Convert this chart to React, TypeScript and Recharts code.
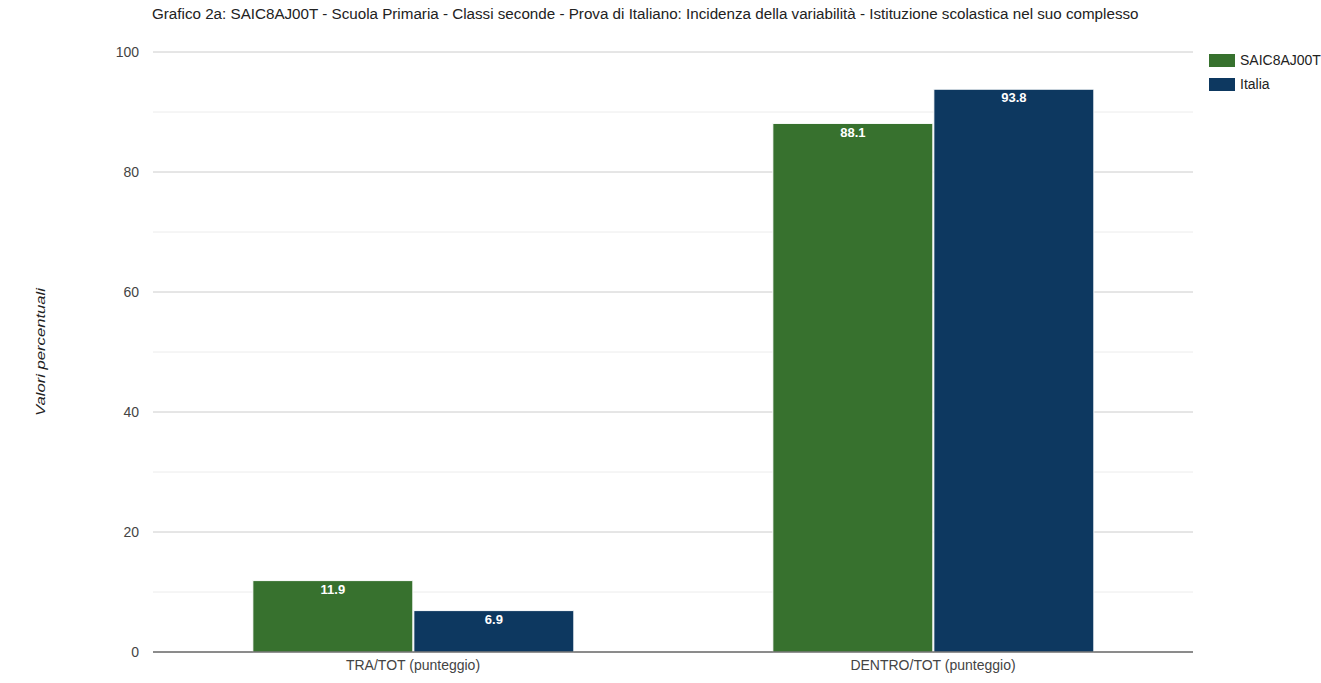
import React from 'react';
import { BarChart, Bar, XAxis, YAxis, CartesianGrid, LabelList } from 'recharts';

const categories = ['TRA/TOT (punteggio)', 'DENTRO/TOT (punteggio)'];
const schoolValues = [11.9, 88.1];
const italiaValues = [6.9, 93.8];
const yTicks = [0, 20, 40, 60, 80, 100];
const minorTicks = [10, 30, 50, 70, 90];
const seriesNames = ['SAIC8AJ00T', 'Italia'];
const seriesColors = ['#37712e', '#0d3860'];
const title = 'Grafico 2a: SAIC8AJ00T - Scuola Primaria - Classi seconde - Prova di Italiano: Incidenza della variabilità - Istituzione scolastica nel suo complesso';
const yLabel = 'Valori percentuali';

const data = categories.map((c, i) => ({ name: c, school: schoolValues[i], italia: italiaValues[i] }));

const FONT = '"Liberation Sans", Arial, sans-serif';

export default function App() {
  return (
    <div style={{ position: 'absolute', left: 0, top: 0, width: 1321, height: 683, background: '#fff' }}>
      <div style={{ position: 'absolute', left: 152, top: 5, fontFamily: FONT, fontSize: 15.2, color: '#222', whiteSpace: 'nowrap' }}>
        {title}
      </div>
      <div style={{ position: 'absolute', left: 1209, top: 48, fontFamily: FONT, fontSize: 14, color: '#222' }}>
        {seriesNames.map((n, i) => (
          <div key={n} style={{ display: 'flex', alignItems: 'center', height: 24 }}>
            <div style={{ width: 26, height: 13, background: seriesColors[i], marginRight: 5 }} />
            <span>{n}</span>
          </div>
        ))}
      </div>
      <BarChart
        width={1321}
        height={683}
        data={data}
        margin={{ top: 52, right: 128, bottom: 0, left: 0 }}
        barCategoryGap="19.2%"
        barGap={1}
      >
        <CartesianGrid vertical={false} horizontalValues={minorTicks} stroke="#ececec" />
        <CartesianGrid vertical={false} horizontalValues={yTicks} stroke="#cccccc" />
        <XAxis
          dataKey="name"
          height={31}
          tickLine={false}
          axisLine={{ stroke: '#333' }}
          tick={{ fill: '#444', fontSize: 14, fontFamily: FONT }}
          tickMargin={2}
        />
        <YAxis
          width={153}
          domain={[0, 100]}
          ticks={yTicks}
          tickLine={false}
          axisLine={false}
          tick={{ fill: '#444', fontSize: 14, fontFamily: FONT }}
          tickMargin={8}
          label={{
            content: (props: any) => {
              const vb = props.viewBox || { y: 52, height: 600 };
              const cy = vb.y + vb.height / 2;
              return (
                <text
                  x={40}
                  y={cy}
                  transform={`rotate(-90, 40, ${cy})`}
                  textAnchor="middle"
                  dominantBaseline="central"
                  fontStyle="italic"
                  fontSize={13}
                  fontFamily={FONT}
                  fill="#222"
                  textLength={128}
                  lengthAdjust="spacingAndGlyphs"
                >
                  {yLabel}
                </text>
              );
            },
          }}
        />
        <Bar dataKey="school" name={seriesNames[0]} fill={seriesColors[0]} stroke="#fff" strokeWidth={1} isAnimationActive={false}>
          <LabelList dataKey="school" position="insideTop" offset={4} fill="#fff" fontSize={13} fontWeight="bold" fontFamily={FONT} />
        </Bar>
        <Bar dataKey="italia" name={seriesNames[1]} fill={seriesColors[1]} stroke="#fff" strokeWidth={1} isAnimationActive={false}>
          <LabelList dataKey="italia" position="insideTop" offset={4} fill="#fff" fontSize={13} fontWeight="bold" fontFamily={FONT} />
        </Bar>
      </BarChart>
    </div>
  );
}
